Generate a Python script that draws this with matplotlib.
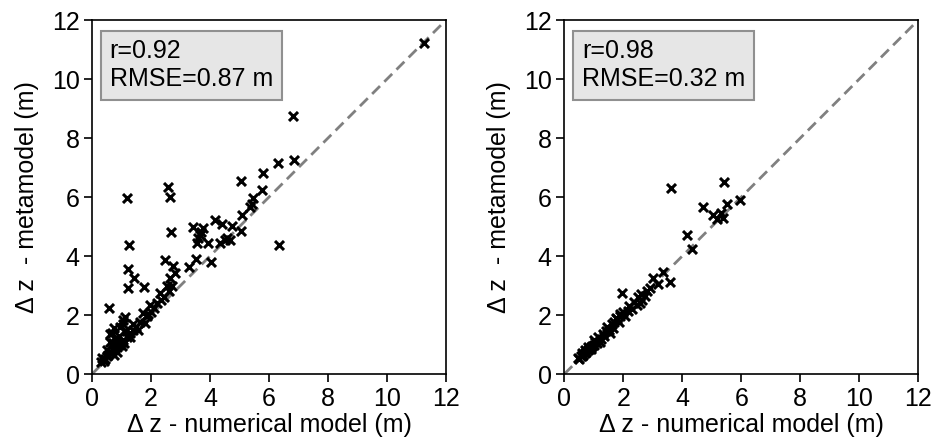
import matplotlib
matplotlib.use("Agg")
import matplotlib.pyplot as plt
import numpy as np

plt.rcParams.update({
    "font.family": ["Liberation Sans", "DejaVu Sans"],
    "font.size": 18,
})

# left panel: numerical vs metamodel (panel a)
left_x = [11.25, 6.82, 6.85, 6.29, 5.81, 5.06, 5.77, 2.56, 2.64, 1.18, 5.47, 5.43,
          5.36, 5.10, 2.67, 1.27, 3.43, 3.77, 3.66, 3.55, 3.94, 4.17, 4.40, 4.74,
          5.04, 4.68, 4.34, 4.57, 6.35, 4.02, 3.53, 3.29, 2.47, 2.73, 2.81, 2.64,
          1.21, 1.43, 1.21, 1.76, 0.58, 1.12, 2.53, 2.30, 1.97, 1.74, 1.63, 1.80,
          1.29, 0.67, 2.45, 2.20, 2.10, 1.90, 1.85, 1.50, 1.40, 1.30, 1.00, 0.90,
          0.80, 0.70, 0.60, 0.50, 0.45, 0.40, 0.55, 0.65, 0.75, 0.85, 0.95, 1.05,
          0.70, 0.80, 0.60, 0.90, 1.00, 1.10, 1.20, 0.50, 0.35, 0.30, 0.75, 0.85,
          1.15, 1.40, 1.55, 2.00, 2.35, 2.60, 2.70, 0.95, 1.05, 1.06, 0.75, 0.60,
          3.70, 3.60, 4.50]
left_y = [11.22, 8.75, 7.25, 7.16, 6.82, 6.53, 6.24, 6.35, 6.01, 5.95, 5.95, 5.78,
          5.67, 5.39, 4.82, 4.39, 5.00, 4.94, 4.72, 4.43, 4.43, 5.22, 5.10, 5.02,
          4.86, 4.54, 4.43, 4.60, 4.39, 3.81, 3.89, 3.62, 3.86, 3.66, 3.41, 3.24,
          3.55, 3.24, 2.90, 2.94, 2.25, 1.92, 2.97, 2.73, 2.34, 2.06, 1.77, 1.72,
          1.27, 1.38, 2.60, 2.40, 2.25, 2.05, 1.95, 1.60, 1.50, 1.40, 1.10, 1.00,
          0.95, 0.80, 0.70, 0.60, 0.50, 0.45, 0.65, 0.75, 0.85, 0.90, 1.05, 1.15,
          1.05, 1.20, 1.10, 1.30, 0.95, 1.05, 1.25, 0.80, 0.55, 0.40, 0.65, 0.75,
          1.45, 1.70, 1.50, 2.10, 2.50, 2.80, 3.00, 1.60, 1.70, 1.83, 1.55, 1.35,
          4.80, 4.60, 4.55]

# right panel (panel b)
right_x = [3.62, 5.41, 5.96, 5.50, 4.71, 5.05, 5.16, 5.39, 5.30, 4.15, 4.34, 3.36,
           3.02, 3.17, 3.58, 1.97, 2.20, 2.35, 2.50, 2.60, 2.75, 2.80, 2.45, 2.30,
           2.65, 2.55, 2.15, 2.00, 1.90, 1.80, 1.70, 1.60, 1.50, 1.40, 1.30, 1.25,
           1.15, 1.05, 1.00, 0.95, 0.90, 0.85, 0.80, 0.75, 0.70, 0.65, 0.60, 0.55,
           0.50, 0.45, 0.70, 0.90, 1.10, 1.35, 1.45, 1.65, 1.85, 2.05, 1.20, 1.00,
           0.80, 0.60, 2.90, 1.90, 1.75, 1.55]
right_y = [6.30, 6.50, 5.90, 5.76, 5.65, 5.39, 5.25, 5.28, 5.45, 4.71, 4.23, 3.46,
           3.27, 3.06, 3.12, 2.74, 2.30, 2.45, 2.60, 2.70, 2.65, 2.80, 2.35, 2.20,
           2.50, 2.40, 2.15, 2.10, 1.95, 1.85, 1.75, 1.70, 1.50, 1.45, 1.35, 1.20,
           1.25, 1.10, 1.00, 0.95, 0.90, 0.85, 0.80, 0.75, 0.70, 0.65, 0.60, 0.60,
           0.50, 0.55, 0.80, 0.85, 1.05, 1.30, 1.60, 1.55, 1.75, 1.95, 1.10, 1.15,
           0.90, 0.70, 2.90, 2.05, 1.90, 1.40]

stats = ["r=0.92\nRMSE=0.87 m", "r=0.98\nRMSE=0.32 m"]

fig = plt.figure(figsize=(9.41, 4.42), dpi=100)
ax1 = fig.add_axes([0.0978, 0.1538, 0.3762, 0.8009])
ax2 = fig.add_axes([0.5997, 0.1538, 0.3762, 0.8009])

for ax, xs, ys, txt in [(ax1, left_x, left_y, stats[0]), (ax2, right_x, right_y, stats[1])]:
    ax.plot([0, 12], [0, 12], ls="--", color="#808080", lw=2, dashes=(4, 2.2), zorder=1)
    ax.scatter(xs, ys, marker="x", color="black", s=42, linewidths=2.2, zorder=3)
    ax.set_xlim(0, 12)
    ax.set_ylim(0, 12)
    ax.set_xticks(np.arange(0, 13, 2))
    ax.set_yticks(np.arange(0, 13, 2))
    ax.set_aspect("equal")
    ax.set_xlabel("\u0394 z - numerical model (m)", fontsize=18, labelpad=2)
    ax.set_ylabel("\u0394 z  - metamodel (m)", fontsize=18, labelpad=9)
    ax.tick_params(labelsize=18, length=6, width=1.2, pad=3)
    for s in ax.spines.values():
        s.set_linewidth(1.2)
    ax.text(0.05, 0.945, txt, transform=ax.transAxes, va="top", ha="left",
            fontsize=18, linespacing=1.2,
            bbox=dict(boxstyle="square,pad=0.35", facecolor="#e6e6e6",
                      edgecolor="#909090", linewidth=1.5))

fig.savefig("out.png", dpi=100)
